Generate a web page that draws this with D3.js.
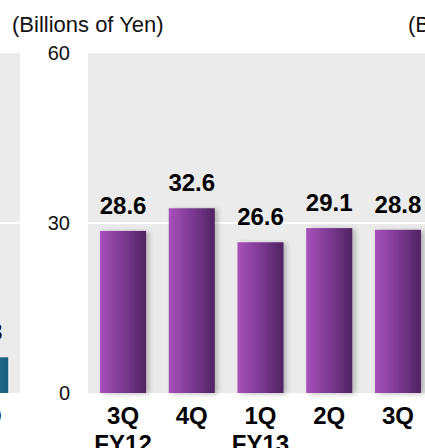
<!DOCTYPE html>
<html>
<head>
<meta charset="utf-8">
<script src="https://cdn.jsdelivr.net/npm/d3@7"></script>
<style>
  html, body { margin: 0; padding: 0; background: #fff; }
  svg { display: block; font-family: "Liberation Sans", Arial, sans-serif; }
</style>
</head>
<body>
<svg id="chart" width="425" height="448"></svg>
<script>
// main panel
const quarters = ['3Q', '4Q', '1Q', '2Q', '3Q'];
const years = ['FY12', '', 'FY13', '', ''];
const values = [28.6, 32.6, 26.6, 29.1, 28.8];
const yTicks = [0, 30, 60];
const unitLabel = '(Billions of Yen)';

// neighbouring panel on the left, only its last bar shows
const leftQuarters = ['3Q'];
const leftValues = [6.3];

const svg = d3.select('#chart');
const width = 425, height = 448;

const y = d3.scaleLinear().domain([0, 60]).range([393, 53]);

const keys = quarters.map((q, i) => i);
const x = d3.scaleBand().domain(keys).range([88, 433])
  .paddingInner(0.33).paddingOuter(0.175);
const xLeft = d3.scaleBand().domain(leftQuarters.map((q, i) => i)).range([-48.75, 20])
  .paddingInner(0.33).paddingOuter(0.175);

const defs = svg.append('defs');
const grad = defs.append('linearGradient').attr('id', 'purple')
  .attr('x1', '0%').attr('x2', '100%').attr('y1', '0%').attr('y2', '0%');
grad.append('stop').attr('offset', '0%').attr('stop-color', '#a752ba');
grad.append('stop').attr('offset', '50%').attr('stop-color', '#7c3a92');
grad.append('stop').attr('offset', '100%').attr('stop-color', '#4e2460');
const teal = defs.append('linearGradient').attr('id', 'teal')
  .attr('x1', '0%').attr('x2', '100%');
teal.append('stop').attr('offset', '0%').attr('stop-color', '#2a86a8');
teal.append('stop').attr('offset', '100%').attr('stop-color', '#1a5f7e');
const shadow = defs.append('filter').attr('id', 'shadow')
  .attr('x', '-20%').attr('y', '-10%').attr('width', '150%').attr('height', '130%');
shadow.append('feDropShadow').attr('dx', 3).attr('dy', 1).attr('stdDeviation', 2.5)
  .attr('flood-color', '#000').attr('flood-opacity', 0.25);

// plot backgrounds
svg.append('rect').attr('x', 88).attr('y', y(60)).attr('width', width - 88)
  .attr('height', y(0) - y(60)).attr('fill', '#ebebeb');
svg.append('rect').attr('x', 0).attr('y', y(60)).attr('width', 20)
  .attr('height', y(0) - y(60)).attr('fill', '#ebebeb');

// grid line at 30
[[88, width], [0, 20]].forEach(([a, b]) => {
  svg.append('line').attr('x1', a).attr('x2', b)
    .attr('y1', y(30)).attr('y2', y(30))
    .attr('stroke', '#fff').attr('stroke-width', 2);
});

// y axis labels
svg.append('g').selectAll('text').data(yTicks).join('text')
  .attr('x', 70).attr('y', d => y(d)).attr('dy', '0.36em')
  .attr('text-anchor', 'end').attr('font-size', 20).attr('fill', '#111')
  .text(d => d);

// titles
svg.append('text').attr('x', 12).attr('y', 32).attr('font-size', 22).attr('fill', '#111')
  .text(unitLabel);
svg.append('text').attr('x', 408).attr('y', 32).attr('font-size', 22).attr('fill', '#111')
  .text(unitLabel);

// bars
svg.append('g').selectAll('rect').data(values).join('rect')
  .attr('x', (d, i) => x(i)).attr('width', x.bandwidth())
  .attr('y', d => y(d)).attr('height', d => y(0) - y(d))
  .attr('fill', 'url(#purple)').attr('filter', 'url(#shadow)');
svg.append('g').selectAll('rect').data(leftValues).join('rect')
  .attr('x', (d, i) => xLeft(i)).attr('width', xLeft.bandwidth())
  .attr('y', d => y(d)).attr('height', d => y(0) - y(d))
  .attr('fill', 'url(#teal)');

// value labels
svg.append('g').selectAll('text').data(values).join('text')
  .attr('x', (d, i) => x(i) + x.bandwidth() / 2).attr('y', d => y(d) - 17)
  .attr('text-anchor', 'middle').attr('font-size', 24).attr('font-weight', 'bold')
  .attr('fill', '#000').text(d => d.toFixed(1));
svg.append('g').selectAll('text').data(leftValues).join('text')
  .attr('x', (d, i) => xLeft(i) + xLeft.bandwidth() / 2).attr('y', d => y(d) - 17)
  .attr('text-anchor', 'middle').attr('font-size', 24).attr('font-weight', 'bold')
  .attr('fill', '#000').text(d => d.toFixed(1));

// category labels
const cat = svg.append('g').attr('font-size', 24).attr('font-weight', 'bold')
  .attr('text-anchor', 'middle').attr('fill', '#000');
cat.selectAll('text.q').data(quarters).join('text').attr('class', 'q')
  .attr('x', (d, i) => x(i) + x.bandwidth() / 2).attr('y', 424).text(d => d);
cat.selectAll('text.fy').data(years).join('text').attr('class', 'fy')
  .attr('x', (d, i) => x(i) + x.bandwidth() / 2).attr('y', 452).text(d => d);
cat.selectAll('text.lq').data(leftQuarters).join('text').attr('class', 'lq')
  .attr('x', (d, i) => xLeft(i) + xLeft.bandwidth() / 2).attr('y', 424).text(d => d);
</script>
</body>
</html>
